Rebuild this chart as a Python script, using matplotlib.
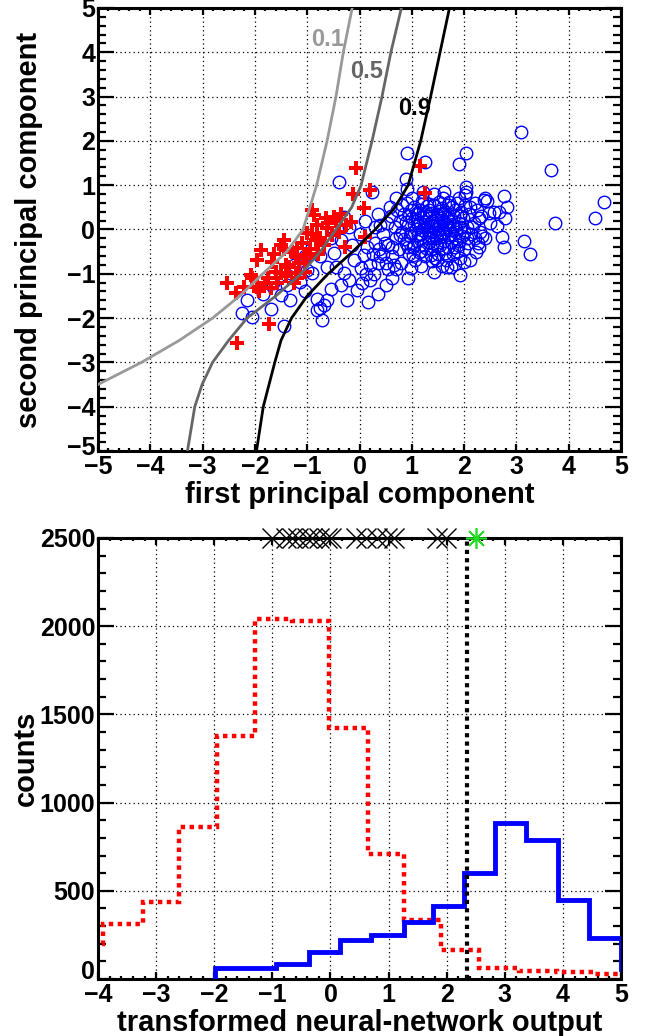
import numpy as np
import matplotlib
matplotlib.use('Agg')
import matplotlib.pyplot as plt
import matplotlib.transforms as mtransforms
from matplotlib.ticker import MultipleLocator

plt.rcParams['font.family'] = ['Liberation Sans', 'DejaVu Sans']
plt.rcParams['font.weight'] = 'bold'

DPI = 100
FIGSIZE = (6.5, 10.36)

# %% top panel data: principal components of the two samples
sig_x = [-0.06, -0.13, 0.20, 0.08, -0.87, -0.65, -0.49, -0.81, -0.62, -1.00, -0.52, -0.84,
         -0.68, -0.27, 0.10, -1.45, -1.51, -1.89, -1.64, -1.96, -1.67, -1.19, -1.22, -1.07,
         -1.41, -1.51, -1.22, -2.08, -2.05, -1.57, -1.80, -1.96, -1.70, -1.26, -2.53, -2.37,
         -1.93, -1.73, -2.35, 1.15, 1.25, -0.17, -1.30, -1.10, -0.90, -0.75, -0.60, -0.45,
         -0.35, -0.95, -1.35, -1.15, -1.05, -1.60, -1.75, -1.40, -2.20, -0.90, -0.40, -0.25,
         -0.80, -1.45, -1.00, -1.20]
sig_y = [1.38, 0.79, 0.88, 0.48, 0.33, 0.25, 0.29, 0.10, 0.03, -0.09, -0.12, -0.24,
         -0.35, -0.39, -0.16, -0.24, -0.35, -0.46, -0.55, -0.69, -0.73, -0.42, -0.61, -0.58,
         -0.80, -0.99, -0.99, -1.03, -1.10, -1.21, -1.21, -1.29, -1.33, -1.21, -1.20, -1.43,
         -1.40, -2.13, -2.56, 1.44, 0.82, 0.18, -0.50, -0.30, -0.10, -0.20, 0.15, 0.20,
         0.35, -0.45, -0.85, -0.75, -0.95, -0.95, -1.10, -1.05, -1.30, 0.45, -0.05, 0.10,
         -0.55, -0.45, -0.65, -1.10]

bkg_x = [0.45, 0.52, 0.55, 0.60, 0.62, 0.68, 0.70, 0.72, 0.75, 0.78, 0.80, 0.82, 0.85, 0.88,
         0.90, 0.92, 0.95, 0.97, 1.00, 1.02, 1.04, 1.06, 1.08, 1.10, 1.12, 1.14, 1.16, 1.18,
         1.20, 1.22, 1.24, 1.26, 1.28, 1.30, 1.32, 1.34, 1.36, 1.38, 1.40, 1.42, 1.44, 1.46,
         1.48, 1.50, 1.52, 1.54, 1.56, 1.58, 1.60, 1.62, 1.64, 1.66, 1.68, 1.70, 1.72, 1.74,
         1.76, 1.78, 1.80, 1.82, 1.84, 1.86, 1.88, 1.90, 1.92, 1.94, 1.96, 1.98, 2.00, 2.02,
         2.05, 2.08, 2.10, 2.14, 2.18, 2.22, 2.25, 2.30,
         1.05, 1.15, 1.25, 1.35, 1.45, 1.55, 1.65, 1.75, 1.30, 1.40, 1.50, 1.60, 1.20, 1.10,
         0.98, 1.70, 1.48, 1.38, 1.58, 1.28, 0.88, 0.78, 1.85, 1.95, 2.05, 1.15, 1.33, 1.52,
         1.72, 1.90, 2.02, 1.62, 1.42, 1.22, 1.00, 0.82, 0.70, 2.20, 2.12, 1.82, 1.58, 1.38,
         1.18, 0.98, 0.70, 0.50, 1.45, 1.75, 2.28, 2.26, 0.40, 0.38, 0.58,
         0.95, 1.05, 1.12, 1.18, 1.27, 1.33, 1.41, 1.47, 1.53, 1.61, 1.67, 1.73, 1.79, 1.87,
         1.93, 0.85, 0.92, 1.02, 1.09, 1.21, 1.29, 1.37, 1.43, 1.57, 1.63, 1.69, 1.77, 1.83,
         1.91, 1.99, 1.11, 1.19, 1.31, 1.39, 1.51, 1.59, 1.71, 1.81, 0.99, 1.49,
         0.55, 0.62, 0.45, 0.35, 0.48, 0.65, 0.28, 0.12, 2.15, 2.32, 2.20, 2.35, 2.12,
         -0.30, -0.40, 0.24, 0.10, 0.00, -0.15, -0.36, -0.49, -0.75, -0.62, -0.30, 0.02,
         0.21, 0.40, 0.08, -0.11, -1.00, -0.90, -1.13, -1.38, -1.51, -1.32, -0.81, -0.62,
         -0.24, 0.16, -0.04, -0.36, -0.68, -0.81, -0.71, -0.75, -1.45, -1.70, -2.16, -2.24,
         -2.05, 0.62, 0.92, 1.43, 1.68, 1.99, 1.93, 0.30, 0.20, 0.35, -0.20, -0.55, -0.90,
         -1.05, 0.15, 0.30, 0.25, -0.45, -0.20, 0.50, 0.35, 0.05, -0.55, -1.05, -1.25,
         -1.65, -1.85,
         0.91, 0.88, 0.90, 1.25, 2.03, 1.90, 2.03, 2.03, 2.38, 2.76, 3.09, 3.67, 4.68, 4.51,
         3.74, 3.14, 3.26, 2.76, 2.73, 2.82, 2.39, 2.44, 2.66, 2.57, 2.47, 2.63, 2.79, 2.28,
         2.50, 2.40]
bkg_y = [-0.10, 0.15, -0.35, 0.30, -0.60, 0.05, -0.20, 0.45, -0.45, 0.20, -0.75, -0.05,
         0.35, -0.30, 0.60, 0.10, -0.55, -0.15, 0.25, -0.40, 0.50, -0.70, 0.00, -0.25, 0.35,
         -0.50, 0.15, -0.10, 0.65, -0.35, 0.05, -0.60, 0.30, -0.20, 0.45, -0.05, -0.45, 0.20,
         -0.30, 0.55, 0.00, -0.15, 0.35, -0.55, 0.10, -0.35, 0.25, -0.05, 0.70, -0.25, 0.40,
         -0.70, 0.05, -0.40, 0.20, -0.10, 0.50, -0.55, 0.30, -0.20, 0.00, 0.60, -0.35, 0.15,
         -0.65, 0.40, -0.15, 0.25, -0.45, 0.55, 0.05, -0.30, 0.35, -0.10, 0.15, -0.50, 0.45,
         -0.05,
         0.12, -0.22, 0.18, -0.12, 0.22, -0.18, 0.12, -0.28, 0.08, -0.05, 0.02, -0.08, -0.02,
         0.22, -0.08, 0.32, -0.38, 0.38, 0.48, -0.42, 0.18, -0.12, -0.05, 0.05, -0.20, 0.45,
         0.58, 0.62, 0.62, 0.72, 0.78, 0.85, 0.80, 0.85, 0.72, 0.55, 0.70, 0.60, -0.68, -0.78,
         -0.82, -0.72, -0.82, -0.88, -0.90, -0.75, -0.65, -0.85, 0.25, -0.30, 0.10, -0.45,
         0.50,
         0.30, -0.35, 0.10, -0.48, 0.40, -0.28, 0.15, -0.20, 0.42, -0.42, 0.28, -0.02, 0.12,
         -0.48, 0.30, -0.22, -0.40, -0.58, 0.38, 0.28, 0.52, -0.58, 0.08, 0.35, -0.52, 0.55,
         0.08, 0.45, -0.25, -0.05, -0.12, 0.58, -0.02, -0.20, 0.30, 0.18, -0.18, -0.40, 0.45,
         -0.70,
         -0.90, -0.40, -0.55, -0.75, -0.30, -0.80, -1.00, -1.00, 0.05, 0.30, -0.20, -0.15, 0.50,
         0.29, 1.08, 0.85, 0.20, -0.10, -0.35, -0.24, -0.54, -0.61, -0.84, -0.99, -0.88,
         -1.14, -0.61, -0.58, -0.69, -0.91, -0.99, -1.18, -1.25, -1.48, -1.59, -1.58, -1.59,
         -1.59, -1.63, -1.37, -1.25, -1.70, -1.82, -2.04, -1.78, -2.18, -1.80, -1.59, -1.89,
         -1.98, -1.10, -1.09, -0.95, -0.84, -0.73, -1.03, -0.30, -0.80, 0.35, 0.05, -0.20,
         -0.40, -0.60, -0.40, 0.05, -0.55, -0.85, -1.15, -1.25, -1.45, -1.20, -1.35, -1.40,
         -0.80, -1.20, -1.45,
         1.73, 1.13, 0.91, 1.53, 1.73, 1.47, 0.95, 0.85, 0.67, 0.76, 2.21, 1.34, 0.61, 0.27,
         0.14, -0.26, -0.55, -0.39, -0.18, 0.50, 0.70, 0.65, 0.40, 0.40, 0.38, 0.08, 0.25,
         -0.39, 0.15, -0.20]

# probability contours (x, y)
c01_x = [-0.14, -0.31, -0.45, -0.62, -0.82, -1.08, -1.39, -1.85, -2.29, -2.81, -3.44, -4.17, -5.0]
c01_y = [5.0, 4.0, 3.0, 2.0, 1.0, 0.0, -0.5, -1.0, -1.5, -2.0, -2.5, -3.0, -3.5]
c05_x = [0.80, 0.60, 0.43, 0.24, 0.03, -0.15, -0.45, -0.75, -1.12, -1.60, -2.15, -2.50, -2.81,
         -3.01, -3.15, -3.29]
c05_y = [5.0, 4.0, 3.0, 2.0, 1.0, 0.5, 0.0, -0.5, -1.0, -1.5, -2.0, -2.5, -3.0, -3.5, -4.0, -5.0]
c09_x = [1.72, 1.54, 1.36, 1.17, 0.93, 0.68, 0.30, -0.13, -0.60, -1.00, -1.30, -1.50, -1.62,
         -1.84, -1.97]
c09_y = [5.0, 4.0, 3.0, 2.0, 1.0, 0.5, 0.0, -0.5, -1.0, -1.5, -2.0, -2.5, -3.0, -4.0, -5.0]
contour_labels = ['0.1', '0.5', '0.9']
label_pos = [(-0.61, 4.28), (0.14, 3.56), (1.05, 2.74)]

# %% bottom panel data: histograms of the transformed output
red_edges = [-4.55, -3.91, -3.23, -2.60, -1.96, -1.30, -0.67, -0.03, 0.65, 1.27, 1.90, 2.56,
             3.24, 3.90, 4.55, 5.20]
red_counts = [196, 314, 437, 862, 1379, 2038, 2028, 1421, 707, 333, 165, 63, 45, 40, 30]
blue_edges = [-1.98, -0.94, -0.37, 0.16, 0.70, 1.27, 1.77, 2.29, 2.84, 3.37, 3.91, 4.45, 5.00, 5.55]
blue_counts = [63, 86, 152, 222, 247, 323, 414, 599, 885, 790, 447, 232, 57]
cut_value = 2.35
cand_x = [-1.00, -0.77, -0.66, -0.56, -0.41, -0.31, -0.20, -0.06, 0.01, 0.44, 0.62, 0.80,
          0.98, 1.09, 1.84, 1.98]
best_x = 2.50


def style_axes(ax, xlim, ylim, xmaj, ymaj):
    ax.set_xlim(*xlim)
    ax.set_ylim(*ylim)
    ax.xaxis.set_major_locator(MultipleLocator(xmaj))
    ax.xaxis.set_minor_locator(MultipleLocator(xmaj / 5))
    ax.yaxis.set_major_locator(MultipleLocator(ymaj))
    ax.yaxis.set_minor_locator(MultipleLocator(ymaj / 5))
    ax.tick_params(axis='both', which='both', direction='in', top=True, right=True,
                   labelsize=18, width=1.6)
    ax.tick_params(axis='x', which='major', length=5, pad=3)
    ax.tick_params(axis='x', which='minor', length=2.5)
    ax.tick_params(axis='y', which='major', length=11.5, pad=2)
    ax.tick_params(axis='y', which='minor', length=5.5)
    for s in ax.spines.values():
        s.set_linewidth(2.2)
    ax.grid(True, which='major', color='k', linestyle=(0, (1, 2.5)), linewidth=0.9)
    ax.set_axisbelow(True)


def lift_lowest_ylabel(ax, bottom_value, points):
    # the lowest y label sits a bit above the axis corner, clear of the x label
    lift = mtransforms.ScaledTranslation(0, points / 72, ax.figure.dpi_scale_trans)
    for tick in ax.yaxis.get_major_ticks():
        if abs(tick.get_loc() - bottom_value) < 1e-9:
            tick.label1.set_transform(tick.label1.get_transform() + lift)


fig = plt.figure(figsize=FIGSIZE, dpi=DPI)

# %% top panel
ax1 = fig.add_axes([0.1508, 0.5647, 0.8046, 0.4276])
style_axes(ax1, (-5, 5), (-5, 5), 1, 1)
ax1.plot(bkg_x, bkg_y, 'o', mfc='none', mec='blue', ms=9, mew=1.0, zorder=3)
ax1.plot(sig_x, sig_y, 'P', color='red', mec='red', ms=10, mew=0, zorder=4)
grays = ['#999999', '#666666', 'black']
for (cx, cy), col, lab, pos in zip([(c01_x, c01_y), (c05_x, c05_y), (c09_x, c09_y)],
                                   grays, contour_labels, label_pos):
    ax1.plot(cx, cy, color=col, lw=2.0, zorder=5)
    ax1.text(pos[0], pos[1], lab, color=col, fontsize=17, fontweight='bold',
             ha='center', va='center', zorder=6)
ax1.set_xlabel('first principal component', fontsize=21, fontweight='bold', labelpad=1)
ax1.set_ylabel('second principal component', fontsize=21, fontweight='bold')
ax1.yaxis.set_label_coords(-0.106, 0.5)

# %% bottom panel
ax2 = fig.add_axes([0.1508, 0.0550, 0.8046, 0.4257])
style_axes(ax2, (-4, 5), (0, 2500), 1, 500)
ax2.stairs(red_counts, red_edges, color='red', lw=3.2, linestyle=(0, (1, 1)), zorder=3)
ax2.stairs(blue_counts, blue_edges, color='blue', lw=3.5, zorder=3)
ax2.axvline(cut_value, color='black', lw=3.0, linestyle=(0, (1, 1)), zorder=4)
ax2.plot(cand_x, [2500] * len(cand_x), 'x', color='black', ms=15, mew=1.0,
         clip_on=False, zorder=6)
ax2.plot([best_x], [2500], marker=(8, 2, 0), color='#22dd22', ms=15, mew=1.2,
         clip_on=False, zorder=7)
ax2.set_xlabel('transformed neural-network output', fontsize=21, fontweight='bold', labelpad=1)
ax2.set_ylabel('counts', fontsize=21, fontweight='bold')
ax2.yaxis.set_label_coords(-0.112, 0.5)

fig.canvas.draw()
lift_lowest_ylabel(ax1, -5, 4)
lift_lowest_ylabel(ax2, 0, 7)

fig.savefig('out.png', dpi=DPI)
